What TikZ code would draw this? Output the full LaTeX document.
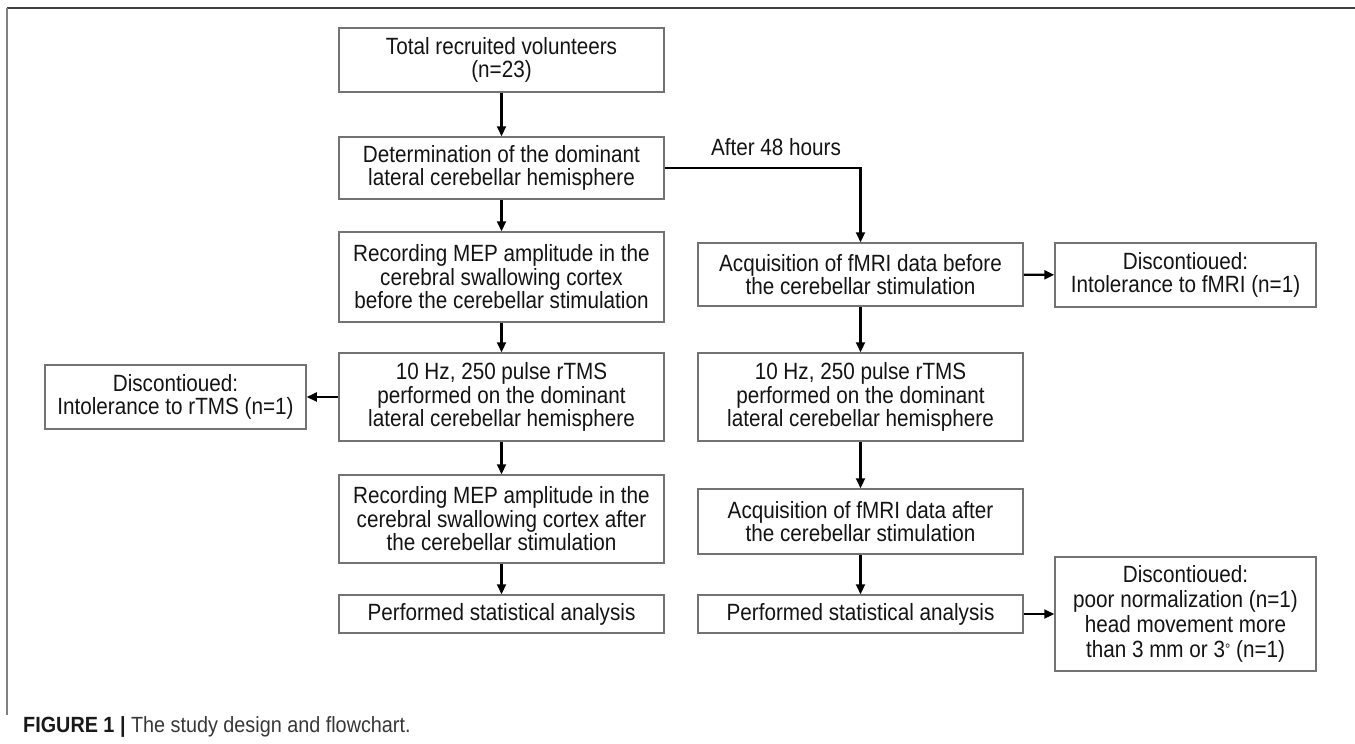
\documentclass[tikz,border=0pt]{standalone}
\usepackage{fontspec}
\setmainfont{Liberation Sans}
\newfontfamily\narrowfont[FakeStretch=0.88]{Liberation Sans}
\newfontfamily\capfont[FakeStretch=0.9]{Liberation Sans}
\usetikzlibrary{arrows.meta}
\begin{document}
\begin{tikzpicture}[x=1pt,y=-1pt,
  flowbox/.style={draw=black!55, line width=1.5pt, fill=white, align=center,
    text=black!92, inner sep=0pt, minimum width=325pt,
    font=\narrowfont\fontsize{23.5}{23.5}\selectfont},
  discbox/.style={flowbox, minimum width=261pt},
  arr/.style={draw=black, line width=2.2pt, -{Triangle[length=10pt,width=9pt]}},
  frameline/.style={line width=1.8pt}]
\useasboundingbox[fill=white] (0,0) rectangle (1355,744);
\draw[frameline, draw=black!75] (7,8) -- (1355,8);
\draw[frameline, draw=black!50] (7,8) -- (7,715);

% left column
\node[flowbox, minimum height=64pt] (b1) at (501.5,60) {Total recruited volunteers\\(n=23)};
\node[flowbox, minimum height=62pt] (b2) at (501.5,168) {Determination of the dominant\\lateral cerebellar hemisphere};
\node[flowbox, minimum height=90pt] (b3) at (501.5,277) {Recording MEP amplitude in the\\cerebral swallowing cortex\\before the cerebellar stimulation};
\node[flowbox, minimum height=88pt] (b4) at (501.5,397) {10 Hz, 250 pulse rTMS\\performed on the dominant\\lateral cerebellar hemisphere};
\node[flowbox, minimum height=88pt] (b5) at (501.5,519) {Recording MEP amplitude in the\\cerebral swallowing cortex after\\the cerebellar stimulation};
\node[flowbox, minimum height=38pt] (b6) at (501.5,614) {Performed statistical analysis};
\node[discbox, minimum height=64pt] (ld) at (175.5,397) {Discontioued:\\Intolerance to rTMS (n=1)};

% right column
\node[flowbox, minimum height=63pt] (a1) at (860.5,274.5) {Acquisition of fMRI data before\\the cerebellar stimulation};
\node[flowbox, minimum height=88pt] (a2) at (860.5,397) {10 Hz, 250 pulse rTMS\\performed on the dominant\\lateral cerebellar hemisphere};
\node[flowbox, minimum height=65pt] (a3) at (860.5,521.5) {Acquisition of fMRI data after\\the cerebellar stimulation};
\node[flowbox, minimum height=38pt] (a4) at (860.5,614) {Performed statistical analysis};
\node[discbox, minimum height=64pt] (d1) at (1185.5,275) {Discontioued:\\Intolerance to fMRI (n=1)};
\node[discbox, minimum height=114pt, font=\narrowfont\fontsize{23.5}{25}\selectfont] (d2) at (1185.5,614) {Discontioued:\\poor normalization (n=1)\\head movement more\\than 3 mm or 3\raisebox{0.25ex}{\fontsize{15}{15}\selectfont°} (n=1)};

% connectors
\draw[arr] (b1) -- (b2);
\draw[arr] (b2) -- (b3);
\draw[arr] (b3) -- (b4);
\draw[arr] (b4) -- (b5);
\draw[arr] (b5) -- (b6);
\draw[arr] (b4) -- (ld);
\draw[arr] (b2.east) -| (a1.north);
\node[text=black!92, font=\narrowfont\fontsize{23.5}{23.5}\selectfont] (lbl) at (776,147) {After 48 hours};
\draw[arr] (a1) -- (a2);
\draw[arr] (a2) -- (a3);
\draw[arr] (a3) -- (a4);
\draw[arr] (a1) -- (d1);
\draw[arr] (a4) -- (d2);

% caption
\node[anchor=west, inner sep=0pt, text=black!78, font=\capfont\fontsize{22}{24}\selectfont] (cap) at (23,727) {{\bfseries\color{black!90}FIGURE 1 |} The study design and flowchart.};
\end{tikzpicture}
\end{document}
